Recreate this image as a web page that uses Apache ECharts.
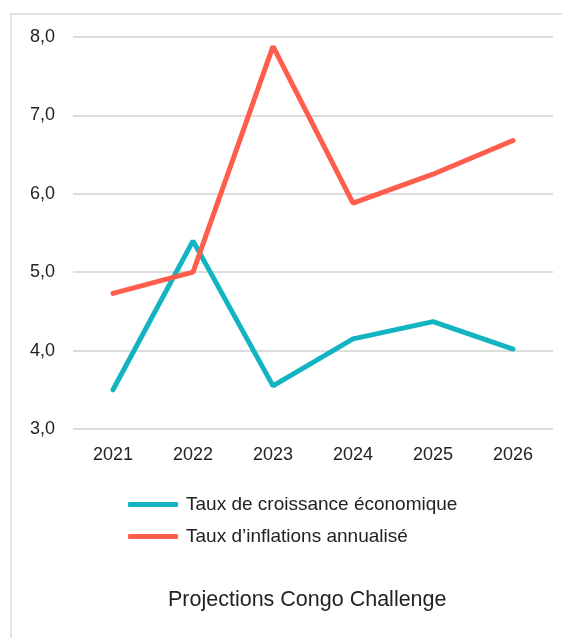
<!DOCTYPE html>
<html>
<head>
<meta charset="utf-8">
<script src="https://cdn.jsdelivr.net/npm/echarts@6/dist/echarts.min.js"></script>
<style>
  html, body { margin: 0; padding: 0; background: #fff; }
  #frame { position: absolute; left: 10px; top: 13px; width: 600px; height: 700px;
           border-left: 2px solid #e2e2e2; border-top: 2px solid #e2e2e2; }
  #chart { position: absolute; left: 0; top: 0; width: 562px; height: 638px; }
</style>
</head>
<body>
<div id="frame"></div>
<div id="chart"></div>
<script>
// donnees
const years = ['2021', '2022', '2023', '2024', '2025', '2026']
const croissance = [3.5, 5.4, 3.55, 4.15, 4.37, 4.02]
const inflation = [4.73, 5.0, 7.88, 5.88, 6.25, 6.68]
const yTicks = [3, 4, 5, 6, 7, 8]

const font = 'Liberation Sans, Arial, sans-serif'
const chart = echarts.init(document.getElementById('chart'))

chart.setOption({
  animation: false,
  textStyle: { fontFamily: font },
  title: {
    text: 'Projections Congo Challenge',
    left: 168,
    top: 589,
    padding: 0,
    textStyle: { fontFamily: font, fontSize: 21.5, fontWeight: 'normal', color: '#222' }
  },
  legend: {
    orient: 'vertical',
    left: 128,
    top: 495,
    padding: 0,
    icon: 'roundRect',
    itemWidth: 50,
    itemHeight: 5,
    itemGap: 13,
    textStyle: { fontFamily: font, fontSize: 19, color: '#222', padding: [0, 0, 0, 3] },
    data: ['Taux de croissance économique', 'Taux d\u2019inflations annualisé']
  },
  grid: { left: 73, right: 9, top: 37, bottom: 209 },
  xAxis: {
    type: 'category',
    data: years,
    boundaryGap: true,
    axisLine: { show: false },
    axisTick: { show: false },
    axisLabel: { fontSize: 18, color: '#222', margin: 17, fontFamily: font }
  },
  yAxis: {
    type: 'value',
    min: yTicks[0],
    max: yTicks[yTicks.length - 1],
    interval: 1,
    axisLine: { show: false },
    axisTick: { show: false },
    splitLine: { lineStyle: { color: '#dcdcdc', width: 2 } },
    axisLabel: {
      fontSize: 18, color: '#222', margin: 18, fontFamily: font,
      formatter: v => v.toFixed(1).replace('.', ',')
    }
  },
  series: [
    {
      name: 'Taux de croissance économique',
      type: 'line',
      data: croissance,
      showSymbol: false,
      color: '#12b4c2',
      lineStyle: { width: 5, color: '#12b4c2', cap: 'round' }
    },
    {
      name: 'Taux d\u2019inflations annualisé',
      type: 'line',
      data: inflation,
      showSymbol: false,
      color: '#ff5e4d',
      lineStyle: { width: 5, color: '#ff5e4d', cap: 'round' }
    }
  ]
})
</script>
</body>
</html>
